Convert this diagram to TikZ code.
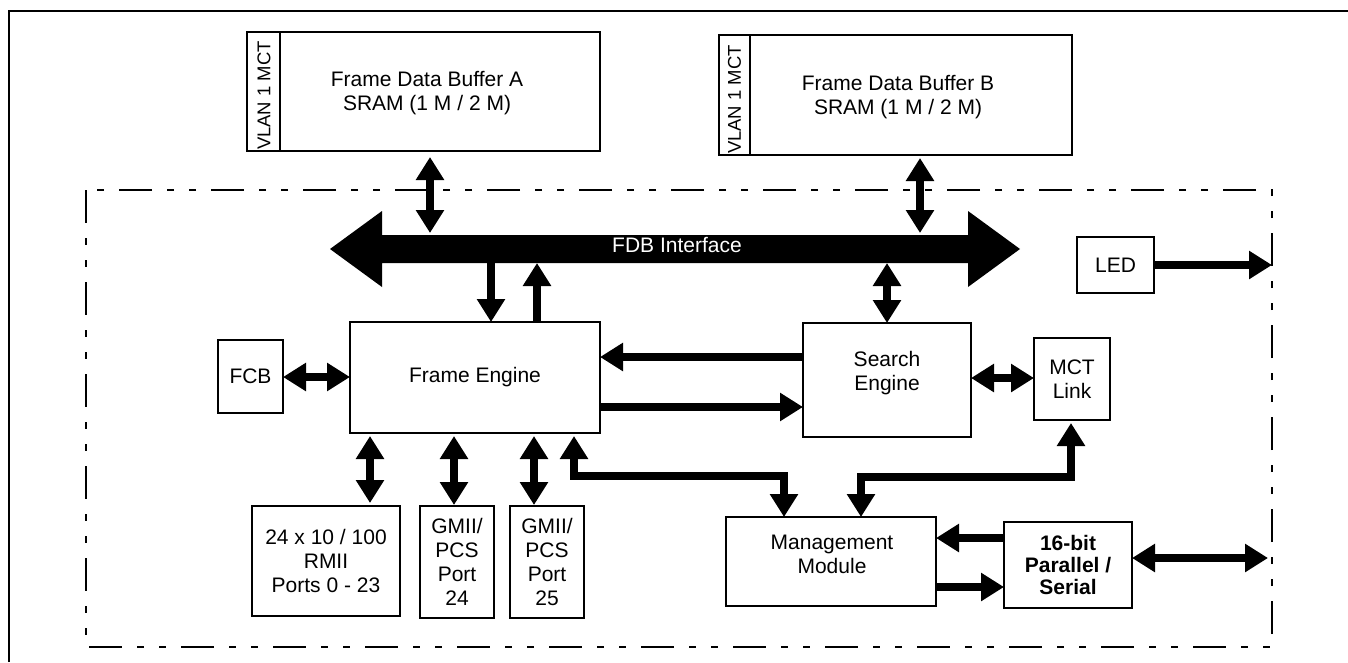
\documentclass[tikz,border=0pt]{standalone}
\usepackage{fontspec}
\setmainfont{Liberation Sans}
\usetikzlibrary{arrows.meta}
\tikzset{
  box/.style={draw, line width=2pt, inner sep=0pt, outer sep=0pt, align=center,
    font=\fontsize{21pt}{24pt}\selectfont},
  lbl/.style={inner sep=0pt, align=center, font=\fontsize{21pt}{24pt}\selectfont},
  vlan/.style={inner sep=0pt, rotate=90, font=\fontsize{18.5pt}{22pt}\selectfont},
  one/.style={line width=8pt, -{Triangle[width=27pt,length=23pt]}},
  two/.style={line width=8pt, {Triangle[width=27pt,length=23pt]}-{Triangle[width=27pt,length=23pt]}},
  divider/.style={line width=2pt},
  outerframe/.style={line width=2.7pt},
  chipframe/.style={line width=2pt, dash pattern=on 33pt off 15pt on 7pt off 15pt on 7pt off 15pt},
}
\begin{document}
\begin{tikzpicture}[x=1pt,y=-1pt]
\useasboundingbox (0,0) rectangle (1348,662);
% outer frame (only top and left edges visible)
\draw[outerframe] (9,662) -- (9,11) -- (1348,11);
% chip boundary
\draw[chipframe] (86,190) rectangle (1272,647);

% frame data buffers
\node[box, minimum width=353pt, minimum height=119pt] (bufA) at (423.5,91.5) {};
\draw[divider] (bufA.north -| 280,0) -- (bufA.south -| 280,0);
\node[lbl] (bufAt) at (427,93) {Frame Data Buffer A\\SRAM (1 M / 2 M)};
\node[vlan] (vlanA) at (264,95.5) {VLAN 1 MCT};

\node[box, minimum width=353pt, minimum height=120pt] (bufB) at (895.5,95) {};
\draw[divider] (bufB.north -| 750,0) -- (bufB.south -| 750,0);
\node[lbl] (bufBt) at (898,97) {Frame Data Buffer B\\SRAM (1 M / 2 M)};
\node[vlan] (vlanB) at (734.5,99.5) {VLAN 1 MCT};

% FDB interface bus
\fill (330,249) -- (382,211) -- (382,235) -- (968,235) -- (968,211) -- (1020,249)
  -- (968,287) -- (968,263) -- (382,263) -- (382,287) -- cycle;
\node[inner sep=0pt, outer sep=0pt, minimum width=586pt, minimum height=28pt] (fdb) at (675,249) {};
\node[lbl, text=white] (fdbt) at (677,245) {FDB Interface};

% blocks
\node[box, minimum width=250pt, minimum height=111pt] (fe) at (475,377.5) {Frame Engine};
\node[box, minimum width=168pt, minimum height=114pt] (se) at (887,380) {};
\node[lbl] (set) at (887,373) {Search\\Engine};
\node[box, minimum width=76pt, minimum height=82pt] (mct) at (1072,379) {MCT\\Link};
\node[box, minimum width=65pt, minimum height=73pt] (fcb) at (250.5,376.5) {FCB};
\node[box, minimum width=77pt, minimum height=56pt] (led) at (1115.5,265) {LED};
\node[box, minimum width=148pt, minimum height=110pt] (rmii) at (326,561) {24 x 10 / 100\\RMII\\Ports 0 - 23};
\node[box, minimum width=74pt, minimum height=112pt] (g24) at (457,562) {GMII/\\PCS\\Port\\24};
\node[box, minimum width=74pt, minimum height=112pt] (g25) at (547,562) {GMII/\\PCS\\Port\\25};
\node[box, minimum width=210pt, minimum height=89pt] (mgmt) at (831,561.5) {};
\node[lbl] (mgmtt) at (832,554) {Management\\Module};
\node[box, minimum width=128pt, minimum height=86pt, font=\fontsize{21pt}{22pt}\selectfont\bfseries] (pser) at (1068,565) {16-bit\\Parallel /\\Serial};

\coordinate (ledout) at (1272,265);
\coordinate (pout) at (1268,558);

% connectors
\draw[two, shorten <=6pt, shorten >=2pt] (bufA.south -| 430,0) -- (fdb.north -| 430,0);
\draw[two, shorten <=3pt, shorten >=2pt] (bufB.south -| 920,0) -- (fdb.north -| 920,0);
\draw[one] (fdb.south -| 491,0) -- (fe.north -| 491,0);
\draw[one] (fe.north -| 537,0) -- (fdb.south -| 537,0);
\draw[two] (fdb.south -| 887,0) -- (se.north);
\draw[one] (se.west |- 0,357) -- (fe.east |- 0,357);
\draw[one] (fe.east |- 0,407) -- (se.west |- 0,407);
\draw[two] (se.east |- 0,378) -- (mct.west |- 0,378);
\draw[two] (fcb.east |- 0,377) -- (fe.west |- 0,377);
\draw[one] (led.east) -- (ledout);
\draw[two, shorten <=3pt, shorten >=3pt] (fe.south -| 370,0) -- (rmii.north -| 370,0);
\draw[two, shorten <=3pt, shorten >=1pt] (fe.south -| 454,0) -- (g24.north -| 454,0);
\draw[two, shorten <=3pt, shorten >=1pt] (fe.south -| 534,0) -- (g25.north -| 534,0);
\draw[two, shorten <=3pt] (fe.south -| 574,0) |- (784,476) -- (mgmt.north -| 784,0);
\draw[two, shorten >=3pt] (mgmt.north -| 861,0) |- (1071,477) -- (mct.south -| 1071,0);
\draw[one] (pser.west |- 0,538) -- (mgmt.east |- 0,538);
\draw[one] (mgmt.east |- 0,587) -- (pser.west |- 0,587);
\draw[two] (pser.east |- 0,558) -- (pout);
\end{tikzpicture}
\end{document}
